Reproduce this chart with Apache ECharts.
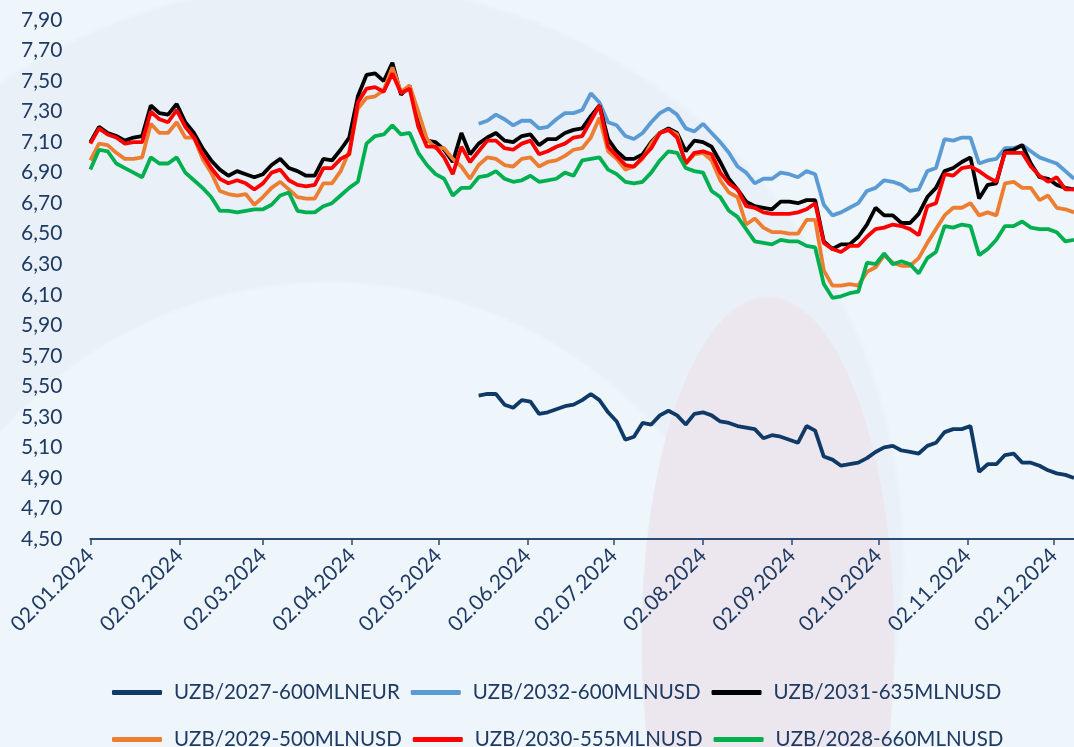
<!DOCTYPE html>
<html>
<head>
<meta charset="utf-8">
<script src="https://cdn.jsdelivr.net/npm/echarts@6/dist/echarts.min.js"></script>
<style>
  html, body { margin: 0; padding: 0; }
  body {
    width: 1074px; height: 747px; overflow: hidden;
    background:
      radial-gradient(ellipse 127px 345px at 768px 640px, #ece7ee 99%, transparent 100%),
      radial-gradient(circle 440px at 330px 720px, #eef5fb 99%, transparent 100%),
      radial-gradient(circle 580px at 326px 560px, #e9f0f7 99%, transparent 100%),
      #eef5fb;
  }
  #chart { width: 1074px; height: 747px; }
</style>
</head>
<body>
<div id="chart"></div>
<script>
// подписи дат на оси X (каждое 2-е число месяца)
const tickLabels = ['02.01.2024', '02.02.2024', '02.03.2024', '02.04.2024', '02.05.2024', '02.06.2024',
  '02.07.2024', '02.08.2024', '02.09.2024', '02.10.2024', '02.11.2024', '02.12.2024'];
const stepDays = 3;
const lastDay = 342;
const usdStart = 45; // UZB/2032 и UZB/2027 начинаются с этой точки

const names = ['UZB/2027-600MLNEUR', 'UZB/2032-600MLNUSD', 'UZB/2031-635MLNUSD',
  'UZB/2029-500MLNUSD', 'UZB/2030-555MLNUSD', 'UZB/2028-660MLNUSD'];
const colors = ['#0f3a68', '#5b9bd5', '#000000', '#ed7d31', '#ff0000', '#00b050'];

const eur2027 = [
  5.44, 5.45, 5.45, 5.38, 5.36, 5.41, 5.40, 5.32, 5.33, 5.35,
  5.37, 5.38, 5.41, 5.45, 5.41, 5.33, 5.27, 5.15, 5.17, 5.26,
  5.25, 5.31, 5.34, 5.31, 5.25, 5.32, 5.33, 5.31, 5.27, 5.26,
  5.24, 5.23, 5.22, 5.16, 5.18, 5.17, 5.15, 5.13, 5.24, 5.21,
  5.04, 5.02, 4.98, 4.99, 5.00, 5.03, 5.07, 5.10, 5.11, 5.08,
  5.07, 5.06, 5.11, 5.13, 5.20, 5.22, 5.22, 5.24, 4.94, 4.99,
  4.99, 5.05, 5.06, 5.00, 5.00, 4.98, 4.95, 4.93, 4.92, 4.90];
const usd2032 = [
  7.22, 7.24, 7.28, 7.25, 7.21, 7.24, 7.24, 7.19, 7.20, 7.25,
  7.29, 7.29, 7.31, 7.42, 7.36, 7.23, 7.21, 7.14, 7.12, 7.16,
  7.23, 7.29, 7.32, 7.28, 7.19, 7.17, 7.22, 7.16, 7.10, 7.03,
  6.94, 6.90, 6.83, 6.86, 6.86, 6.90, 6.89, 6.87, 6.91, 6.89,
  6.69, 6.62, 6.64, 6.67, 6.70, 6.78, 6.80, 6.85, 6.84, 6.82,
  6.78, 6.79, 6.91, 6.93, 7.12, 7.11, 7.13, 7.13, 6.96, 6.98,
  6.99, 7.06, 7.06, 7.08, 7.04, 7.00, 6.98, 6.96, 6.91, 6.86];
const usd2031 = [
  7.10, 7.20, 7.16, 7.14, 7.11, 7.13, 7.14, 7.34, 7.29, 7.28,
  7.35, 7.23, 7.16, 7.06, 6.98, 6.92, 6.88, 6.91, 6.89, 6.87,
  6.89, 6.95, 6.99, 6.93, 6.91, 6.88, 6.88, 6.99, 6.98, 7.05,
  7.13, 7.40, 7.54, 7.55, 7.50, 7.62, 7.41, 7.47, 7.23, 7.11,
  7.10, 7.05, 6.97, 7.16, 7.02, 7.09, 7.13, 7.16, 7.11, 7.10,
  7.14, 7.15, 7.08, 7.12, 7.12, 7.16, 7.18, 7.19, 7.27, 7.34,
  7.12, 7.04, 6.99, 6.99, 7.02, 7.10, 7.16, 7.19, 7.16, 7.04,
  7.11, 7.10, 7.07, 6.97, 6.86, 6.79, 6.71, 6.68, 6.67, 6.66,
  6.71, 6.71, 6.70, 6.72, 6.72, 6.45, 6.40, 6.43, 6.43, 6.48,
  6.56, 6.67, 6.62, 6.62, 6.57, 6.57, 6.63, 6.74, 6.80, 6.91,
  6.93, 6.97, 7.00, 6.73, 6.82, 6.83, 7.04, 7.05, 7.08, 6.96,
  6.87, 6.86, 6.82, 6.80, 6.79];
const usd2029 = [
  6.98, 7.09, 7.08, 7.03, 6.99, 6.99, 7.00, 7.22, 7.16, 7.16,
  7.23, 7.13, 7.13, 6.99, 6.90, 6.78, 6.76, 6.75, 6.76, 6.69,
  6.74, 6.80, 6.84, 6.79, 6.74, 6.73, 6.73, 6.83, 6.83, 6.91,
  7.04, 7.32, 7.39, 7.40, 7.44, 7.59, 7.43, 7.47, 7.30, 7.12,
  7.06, 7.06, 6.99, 6.94, 6.86, 6.95, 7.00, 6.99, 6.95, 6.94,
  6.99, 7.00, 6.94, 6.97, 6.98, 7.01, 7.05, 7.06, 7.13, 7.26,
  7.04, 6.99, 6.92, 6.94, 6.99, 7.09, 7.16, 7.18, 7.15, 6.96,
  7.02, 7.03, 6.98, 6.85, 6.77, 6.74, 6.56, 6.60, 6.54, 6.51,
  6.51, 6.50, 6.50, 6.59, 6.59, 6.26, 6.16, 6.16, 6.17, 6.16,
  6.25, 6.28, 6.36, 6.31, 6.29, 6.29, 6.34, 6.44, 6.53, 6.62,
  6.67, 6.67, 6.70, 6.62, 6.64, 6.62, 6.83, 6.84, 6.80, 6.80,
  6.72, 6.75, 6.67, 6.66, 6.64];
const usd2030 = [
  7.09, 7.19, 7.15, 7.13, 7.09, 7.10, 7.10, 7.30, 7.25, 7.23,
  7.31, 7.20, 7.13, 7.02, 6.93, 6.86, 6.83, 6.85, 6.83, 6.79,
  6.83, 6.90, 6.92, 6.85, 6.82, 6.81, 6.82, 6.93, 6.93, 6.99,
  7.02, 7.36, 7.45, 7.46, 7.43, 7.55, 7.42, 7.45, 7.20, 7.07,
  7.07, 7.00, 6.89, 7.07, 6.97, 7.04, 7.11, 7.11, 7.06, 7.05,
  7.09, 7.11, 7.02, 7.04, 7.07, 7.09, 7.13, 7.14, 7.24, 7.34,
  7.07, 7.01, 6.95, 6.94, 7.00, 7.06, 7.16, 7.18, 7.13, 6.96,
  7.03, 7.04, 7.02, 6.90, 6.83, 6.79, 6.68, 6.67, 6.64, 6.63,
  6.63, 6.63, 6.64, 6.66, 6.70, 6.44, 6.40, 6.38, 6.42, 6.42,
  6.48, 6.53, 6.54, 6.56, 6.55, 6.53, 6.49, 6.68, 6.70, 6.89,
  6.88, 6.93, 6.94, 6.91, 6.87, 6.84, 7.03, 7.03, 7.03, 6.94,
  6.88, 6.84, 6.87, 6.79, 6.79];
const usd2028 = [
  6.92, 7.05, 7.04, 6.96, 6.93, 6.90, 6.87, 7.00, 6.96, 6.96,
  7.00, 6.90, 6.85, 6.80, 6.74, 6.65, 6.65, 6.64, 6.65, 6.66,
  6.66, 6.69, 6.75, 6.77, 6.65, 6.64, 6.64, 6.68, 6.70, 6.75,
  6.80, 6.84, 7.09, 7.14, 7.15, 7.21, 7.15, 7.16, 7.03, 6.95,
  6.89, 6.86, 6.75, 6.80, 6.80, 6.87, 6.88, 6.91, 6.86, 6.84,
  6.85, 6.88, 6.84, 6.85, 6.86, 6.90, 6.88, 6.98, 6.99, 7.00,
  6.92, 6.89, 6.84, 6.83, 6.84, 6.90, 6.98, 7.04, 7.03, 6.93,
  6.91, 6.90, 6.78, 6.74, 6.65, 6.61, 6.53, 6.45, 6.44, 6.43,
  6.46, 6.45, 6.45, 6.42, 6.41, 6.17, 6.08, 6.09, 6.11, 6.12,
  6.31, 6.30, 6.37, 6.30, 6.32, 6.30, 6.24, 6.34, 6.38, 6.55,
  6.54, 6.56, 6.55, 6.36, 6.40, 6.46, 6.55, 6.55, 6.58, 6.54,
  6.53, 6.53, 6.51, 6.45, 6.46];

const textColor = '#1f3a63';
const axisColor = '#2a4a75';
const font = 'Lato';

// день от 02.01.2024 для подписи вида дд.мм.гггг
function dayOf(label) {
  const [d, m, y] = label.split('.').map(Number);
  return Math.round((Date.UTC(y, m - 1, d) - Date.UTC(2024, 0, 2)) / 86400000);
}
const tickDays = tickLabels.map(dayOf);
const labelByDay = {};
tickLabels.forEach((l, i) => { labelByDay[tickDays[i]] = l; });

function pairs(values, offset) {
  return values.map((v, i) => [(i + offset) * stepDays, v]);
}

const seriesValues = [
  pairs(eur2027, usdStart), pairs(usd2032, usdStart), pairs(usd2031, 0),
  pairs(usd2029, 0), pairs(usd2030, 0), pairs(usd2028, 0)
];

const legendBase = {
  left: 107, itemWidth: 50, itemHeight: 5, itemGap: 11, icon: 'roundRect',
  textStyle: { fontFamily: font, fontSize: 20.5, color: textColor, padding: [0, 0, 0, 7] }
};

const chart = echarts.init(document.getElementById('chart'), null, { renderer: 'canvas' });
chart.setOption({
  backgroundColor: 'transparent',
  animation: false,
  grid: { left: 90.4, right: 0, top: 20, bottom: 208, outerBoundsMode: 'none' },
  legend: [
    Object.assign({ data: names.slice(0, 3), top: 677 }, legendBase),
    Object.assign({ data: names.slice(3), top: 724 }, legendBase)
  ],
  xAxis: {
    type: 'value', min: 0, max: lastDay,
    axisLine: { lineStyle: { color: axisColor, width: 2 } },
    axisTick: { customValues: tickDays, length: 6, lineStyle: { color: axisColor, width: 1.5 } },
    axisLabel: {
      customValues: tickDays, rotate: 45, margin: 13,
      fontFamily: font, fontSize: 21, color: textColor,
      formatter: (v) => labelByDay[v] || ''
    },
    splitLine: { show: false }
  },
  yAxis: {
    type: 'value', min: 4.5, max: 7.9, interval: 0.2,
    axisLine: { show: false }, axisTick: { show: false }, splitLine: { show: false },
    axisLabel: {
      margin: 28, fontFamily: font, fontSize: 21, color: textColor,
      formatter: (v) => v.toFixed(2).replace('.', ',')
    }
  },
  series: names.map((name, i) => ({
    name, type: 'line', data: seriesValues[i],
    symbol: 'none', showSymbol: false,
    lineStyle: { width: 3.8, color: colors[i] },
    itemStyle: { color: colors[i] }
  }))
});
</script>
</body>
</html>
